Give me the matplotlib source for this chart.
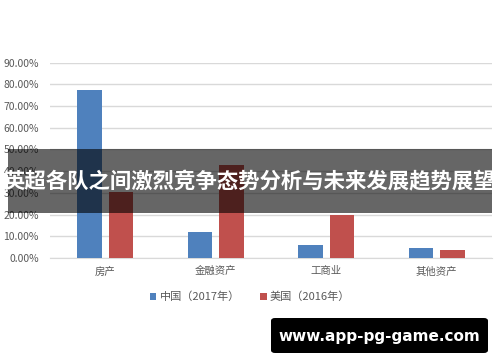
import numpy as np
import matplotlib
matplotlib.use('Agg')
import matplotlib.pyplot as plt
from matplotlib.patches import Rectangle, FancyBboxPatch
from matplotlib.ticker import FuncFormatter

plt.rcParams['font.family'] = ['Noto Sans CJK SC', 'DejaVu Sans']

categories = ['房产', '金融资产', '工商业', '其他资产']
china_2017 = [0.774, 0.119, 0.058, 0.048]
usa_2016 = [0.304, 0.427, 0.196, 0.035]
series_names = ['中国（2017年）', '美国（2016年）']
title_text = '英超各队之间激烈竞争态势分析与未来发展趋势展望'
watermark = 'www.app-pg-game.com'

fig = plt.figure(figsize=(5, 3.62), dpi=100)
ax = fig.add_axes([0.1, 0.2873, 0.884, 0.5395])

x = np.arange(len(categories))
w = 0.22
ax.bar(x - 0.143, china_2017, w, color='#4f81bd', label=series_names[0], zorder=3)
ax.bar(x + 0.143, usa_2016, w, color='#c0504d', label=series_names[1], zorder=3)

ax.set_xlim(-0.5, 3.5)
ax.set_ylim(0, 0.9)
ax.set_yticks(np.arange(0, 0.91, 0.1))
ax.yaxis.set_major_formatter(FuncFormatter(lambda v, p: f'{v * 100:.2f}%'))
ax.set_xticks(x)
ax.set_xticklabels(categories)
ax.tick_params(axis='both', length=0, colors='#595959', labelsize=7.5)
ax.tick_params(axis='x', pad=6)
ax.tick_params(axis='y', pad=8)
ax.grid(axis='y', color='#d9d9d9', linewidth=1, zorder=0)
for s in ['top', 'right', 'left']:
    ax.spines[s].set_visible(False)
ax.spines['bottom'].set_color('#d9d9d9')

leg = fig.legend(loc='center', bbox_to_anchor=(0.5, 1 - 297 / 362), ncol=2, frameon=False,
                 fontsize=8, handlelength=0.6, handleheight=0.6, handletextpad=0.3,
                 columnspacing=1.8, labelcolor='#595959')

# dark banner across the middle
fig.patches.append(Rectangle((8 / 500, 1 - 213 / 362), 484 / 500, 64 / 362,
                             transform=fig.transFigure, facecolor='black', alpha=0.6,
                             edgecolor='none', zorder=10))
fig.text(249 / 500, 1 - 182 / 362, title_text, ha='center', va='center', color='white',
         fontsize=15.4, fontweight='bold', zorder=11)

# watermark box
fig.patches.append(FancyBboxPatch((271 / 500, 1 - 353 / 362), 217 / 500, 35 / 362,
                                  boxstyle='round,pad=0,rounding_size=0.008',
                                  transform=fig.transFigure, facecolor='black',
                                  edgecolor='none', zorder=10))
fig.text(379.5 / 500, 1 - 336 / 362, watermark, ha='center', va='center', color='white',
         fontsize=11, fontweight='bold', family='DejaVu Sans', zorder=11)

fig.savefig('out.png', dpi=100)
